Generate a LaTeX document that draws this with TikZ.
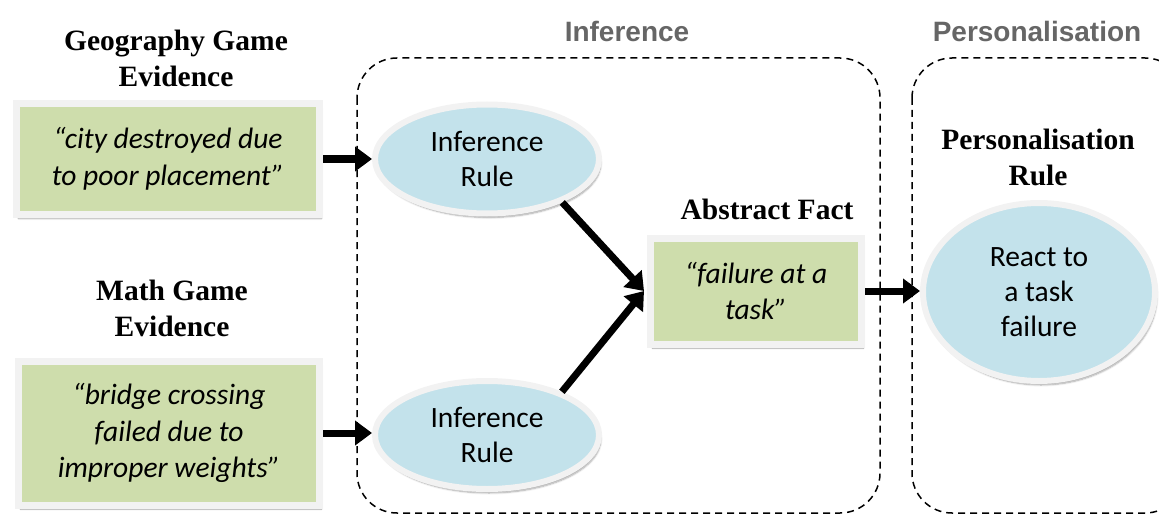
\documentclass[tikz,border=0pt]{standalone}
\usepackage{fontspec}
\newfontfamily\calib{Carlito}
\newfontfamily\tnr{Liberation Serif}
\newfontfamily\ari{Liberation Sans}
\usetikzlibrary{arrows.meta,shapes.geometric,shadows.blur}
\definecolor{evgreen}{RGB}{206,221,172}
\definecolor{rulblue}{RGB}{195,226,235}
\definecolor{rimgray}{RGB}{242,242,242}
\definecolor{headgray}{RGB}{102,102,102}
\begin{document}
\begin{tikzpicture}[x=1pt,y=-1pt,
  softshadow/.style={blur shadow={shadow xshift=2pt, shadow yshift=-4pt, shadow blur steps=6, shadow opacity=35}},
  evbox/.style={rectangle, draw=rimgray, line width=7pt, fill=evgreen, softshadow,
    font=\calib\itshape\fontsize{29.5}{36.5}\selectfont, align=center, inner sep=0pt},
  rulell/.style={ellipse, draw=rimgray, line width=6pt, fill=rulblue, softshadow,
    font=\calib\fontsize{29.5}{35}\selectfont, align=center, inner sep=0pt},
  title/.style={font=\tnr\bfseries\fontsize{29.5}{36}\selectfont, align=center},
  phase/.style={font=\ari\bfseries\fontsize{28}{34}\selectfont, text=headgray},
  flow/.style={line width=7pt, -{Triangle[length=17pt,width=24pt]}},
  group/.style={line width=1.5pt, rounded corners=40pt, dash pattern=on 7pt off 5pt}
]
\useasboundingbox (0,0) rectangle (1159,516);

% groups
\draw[group] (357,58) rectangle (880,513);
\begin{scope}
  \clip (0,0) rectangle (1159,516);
  \draw[group] (912,58) rectangle (1185,513);
\end{scope}
\node[phase] (phinf) at (627,31) {Inference};
\node[phase] (phpers) at (1037,31) {Personalisation};

% evidence
\node[title] (geot) at (176,58) {Geography Game\\Evidence};
\node[evbox, minimum width=303pt, minimum height=111pt] (geo) at (168,159)
  {“city destroyed due\\to poor placement”};
\node[title] (matht) at (172,308) {Math Game\\Evidence};
\node[evbox, minimum width=301pt, minimum height=144pt] (math) at (169,433)
  {“bridge crossing\\failed due to\\improper weights”};

% inference
\node[rulell, minimum width=224pt, minimum height=109pt] (inf1) at (487,159) {Inference\\Rule};
\node[rulell, minimum width=224pt, minimum height=108pt] (inf2) at (487,435) {Inference\\Rule};
\node[title] (abst) at (767,209) {Abstract Fact};
\node[evbox, minimum width=211pt, minimum height=106pt] (abs) at (756,291)
  {“failure at a\\task”};

% personalisation
\node[title] (perst) at (1038,157) {Personalisation\\Rule};
\node[rulell, minimum width=232pt, minimum height=178pt] (react) at (1039,292) {React to\\a task\\failure};

% connectors
\draw[flow] (geo.east) -- (geo.east -| inf1.west);
\draw[flow] (math.east) -- (math.east -| inf2.west);
\draw[flow] (inf1.-30) -- ([xshift=-3pt]abs.west);
\draw[flow] (inf2.30) -- ([xshift=-3pt]abs.west);
\draw[flow] (abs.east) -- (abs.east -| react.west);
\end{tikzpicture}
\end{document}
